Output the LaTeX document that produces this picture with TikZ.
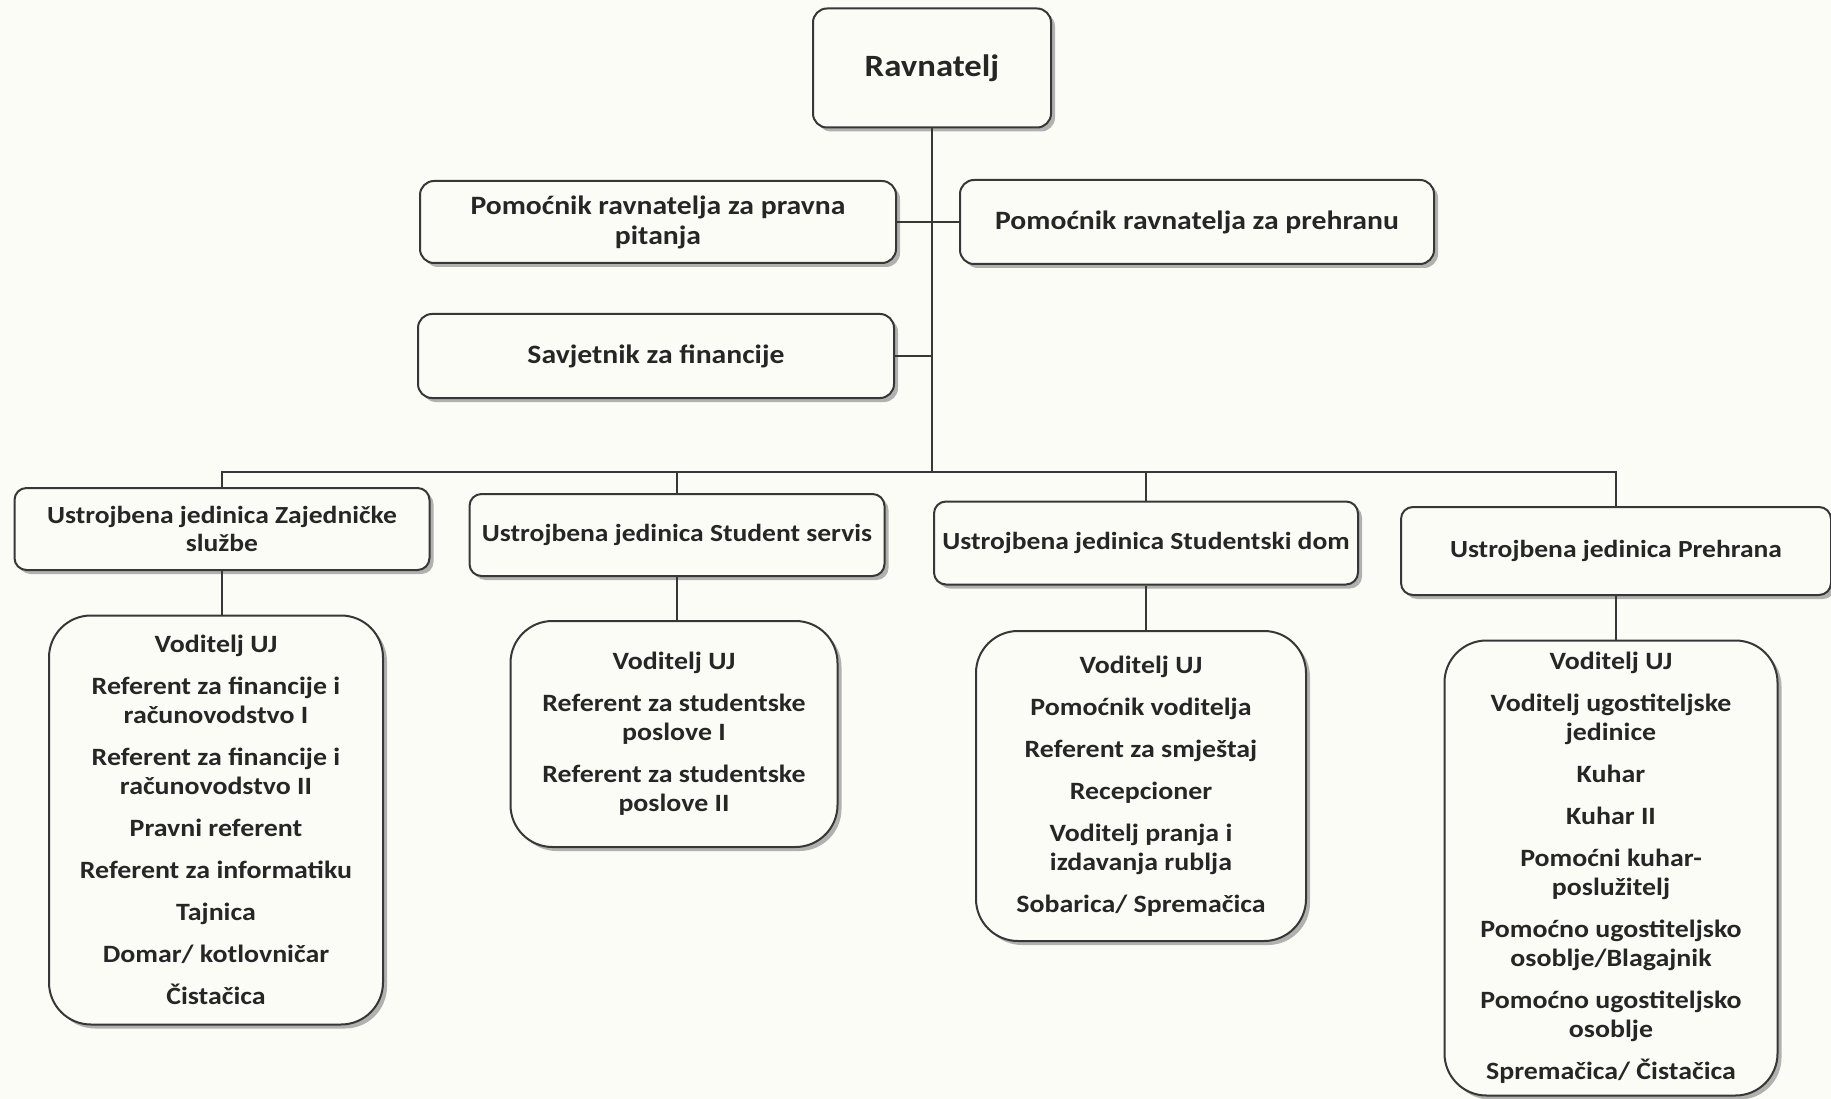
\documentclass[tikz,border=0pt]{standalone}
\usepackage{fontspec}
\setmainfont{Carlito}[FakeStretch=1.12]
\usetikzlibrary{shadows}
\definecolor{bg}{RGB}{252,252,247}
\definecolor{ink}{RGB}{38,38,38}
\definecolor{edge}{RGB}{55,55,55}
\tikzset{
  boxbase/.style={draw=edge, line width=2pt, fill=bg, text=ink, align=center, inner sep=0pt,
    drop shadow={shadow xshift=4pt, shadow yshift=-4pt, fill=black!50, opacity=0.6}},
  topbox/.style={boxbase, rounded corners=14pt, font=\bfseries\fontsize{26.5}{30}\selectfont},
  unitbox/.style={boxbase, rounded corners=12pt, font=\bfseries\fontsize{24.6}{28}\selectfont},
  listbox/.style={boxbase, rounded corners=42pt, font=\bfseries\fontsize{24.9}{29}\selectfont},
  conn/.style={draw=edge, line width=1.5pt}
}
\newcommand{\gap}{\\[13pt]}
\begin{document}
\begin{tikzpicture}[x=1pt,y=-1pt]
\useasboundingbox[fill=bg] (0,0) rectangle (1831,1099);

\node[topbox, font=\bfseries\fontsize{31}{36}\selectfont, minimum width=238pt, minimum height=119pt] (rav) at (932,68) {Ravnatelj};
\node[topbox, minimum width=476pt, minimum height=82pt] (pp) at (658,222) {Pomoćnik ravnatelja za pravna\\pitanja};
\node[topbox, minimum width=474pt, minimum height=84pt] (pr) at (1197,222) {Pomoćnik ravnatelja za prehranu};
\node[topbox, minimum width=476pt, minimum height=84pt] (sav) at (656,356) {Savjetnik za financije};

\node[unitbox, minimum width=415pt, minimum height=82pt] (uA) at (222,529) {Ustrojbena jedinica Zajedničke\\službe};
\node[unitbox, minimum width=415pt, minimum height=82pt] (uB) at (677,535) {Ustrojbena jedinica Student servis};
\node[unitbox, minimum width=424pt, minimum height=83pt] (uC) at (1146,543) {Ustrojbena jedinica Studentski dom};
\node[unitbox, minimum width=430pt, minimum height=88pt] (uD) at (1616,551) {Ustrojbena jedinica Prehrana};

\node[listbox, minimum width=334pt, minimum height=409pt] (lA) at (216,820) {Voditelj UJ\gap Referent za financije i\\računovodstvo I\gap Referent za financije i\\računovodstvo II\gap Pravni referent\gap Referent za informatiku\gap Tajnica\gap Domar/ kotlovničar\gap Čistačica};
\node[listbox, minimum width=327pt, minimum height=226pt] (lB) at (674,734) {Voditelj UJ\gap Referent za studentske\\poslove I\gap Referent za studentske\\poslove II};
\node[listbox, minimum width=330pt, minimum height=310pt] (lC) at (1141,786) {Voditelj UJ\gap Pomoćnik voditelja\gap Referent za smještaj\gap Recepcioner\gap Voditelj pranja i\\izdavanja rublja\gap Sobarica/ Spremačica};
\node[listbox, minimum width=333pt, minimum height=455pt] (lD) at (1611,868) {Voditelj UJ\gap Voditelj ugostiteljske\\jedinice\gap Kuhar\gap Kuhar II\gap Pomoćni kuhar-\\poslužitelj\gap Pomoćno ugostiteljsko\\osoblje/Blagajnik\gap Pomoćno ugostiteljsko\\osoblje\gap Spremačica/ Čistačica};

\coordinate (bus) at (932,472);
\draw[conn] (rav.south) -- (bus);
\draw[conn] (pp.east) -- (pr.west);
\draw[conn] (sav.east) -- (sav.east -| bus);
\draw[conn] (uA.north) -- (uA.north |- bus) -- (uD.north |- bus) -- (uD.north);
\draw[conn] (uB.north) -- (uB.north |- bus);
\draw[conn] (uC.north) -- (uC.north |- bus);
\draw[conn] (uA.south) -- (uA.south |- lA.north);
\draw[conn] (uB.south) -- (uB.south |- lB.north);
\draw[conn] (uC.south) -- (uC.south |- lC.north);
\draw[conn] (uD.south) -- (uD.south |- lD.north);
\end{tikzpicture}
\end{document}
